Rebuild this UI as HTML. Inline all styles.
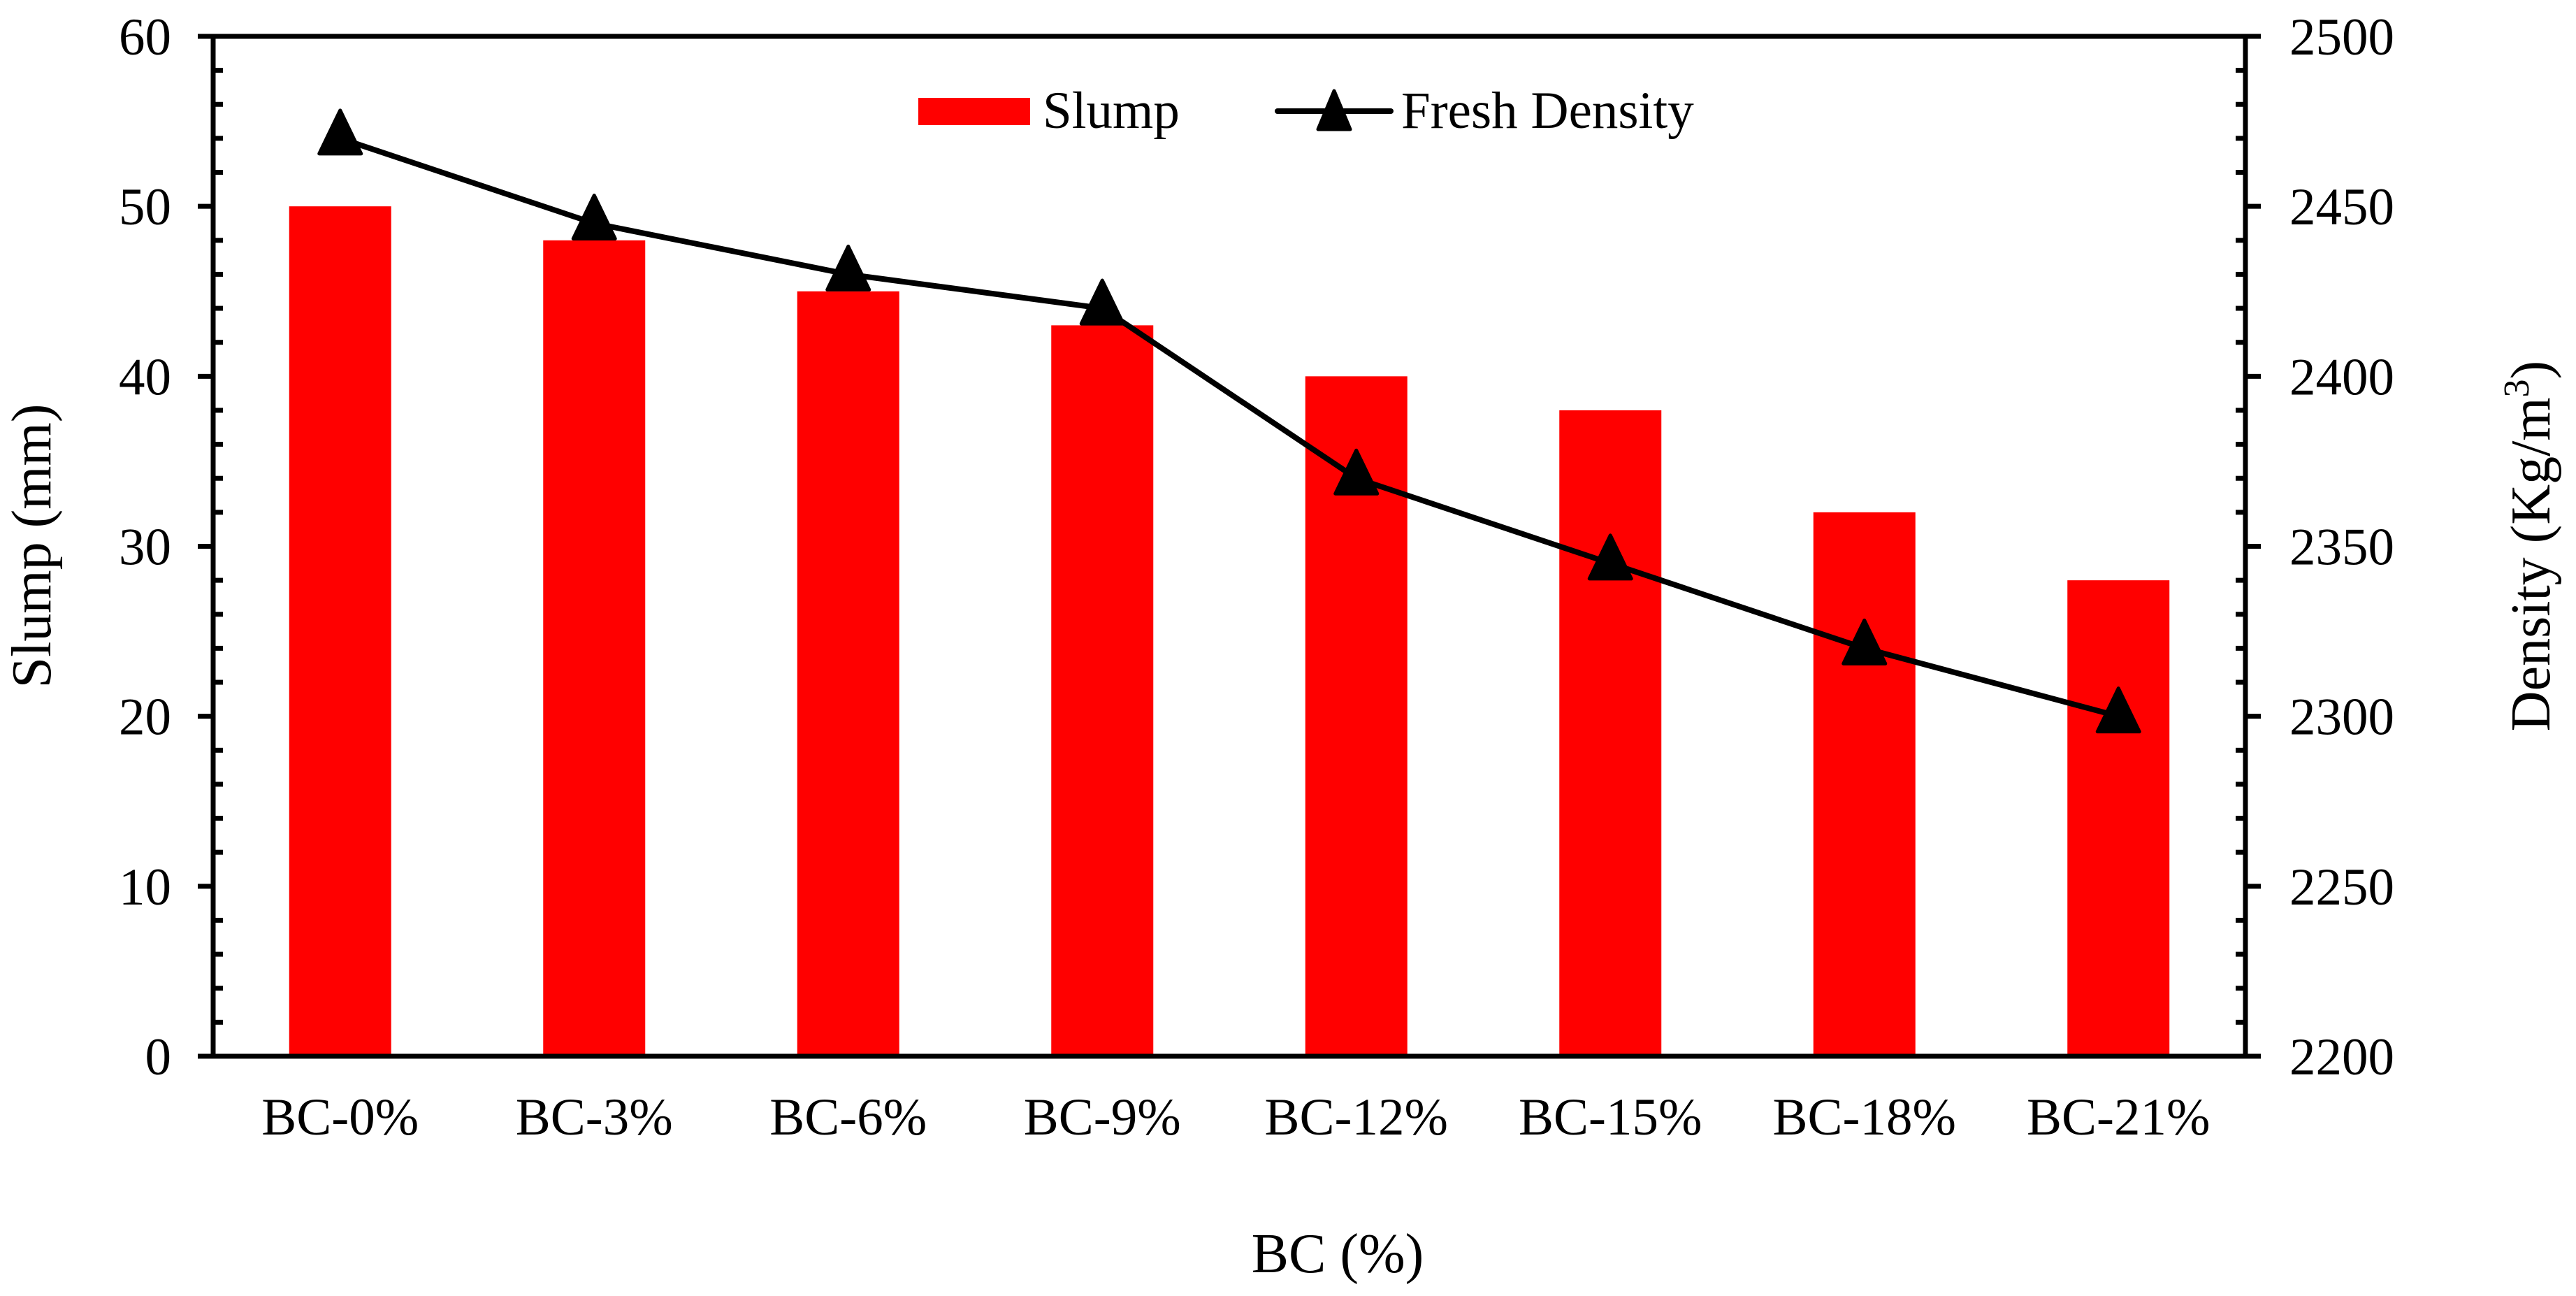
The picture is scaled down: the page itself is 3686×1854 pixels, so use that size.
<!DOCTYPE html>
<html><head><meta charset="utf-8"><style>
html,body{margin:0;padding:0;background:#fff;}
svg{display:block;font-family:"Liberation Serif","Times New Roman",serif;}
</style></head><body>
<svg id="chart" width="3686" height="1854" viewBox="0 0 3686 1854" xmlns="http://www.w3.org/2000/svg">
<rect width="3686" height="1854" fill="#fff"/>
<g id="bars"></g>
<g id="axes"></g>
<g id="line"></g>
<g>
  <g>
    <rect x="1314" y="140" width="160" height="39" fill="#ff0000"/>
    <text x="1492" y="183" font-size="75">Slump</text>
  </g>
  <g>
    <line x1="1828" y1="159" x2="1990" y2="159" stroke="#000" stroke-width="8" stroke-linecap="round"/>
    <path d="M1909,130 L1932,185 L1886,185 Z" fill="#000" stroke="#000" stroke-width="5" stroke-linejoin="round"/>
    <text x="2005" y="183" font-size="75">Fresh Density</text>
  </g>
</g>
<text x="1914" y="1820" font-size="80" text-anchor="middle">BC (%)</text>
<text transform="translate(72,781) rotate(-90)" font-size="80" text-anchor="middle">Slump (mm)</text>
<text transform="translate(3648,781) rotate(-90)" font-size="80" text-anchor="middle">Density (Kg/m<tspan font-size="52" dy="-30">3</tspan><tspan dy="30">)</tspan></text>
</svg>
<script>
const categories = ["BC-0%","BC-3%","BC-6%","BC-9%","BC-12%","BC-15%","BC-18%","BC-21%"];
const slumpValues = [50,48,45,43,40,38,32,28];
const densityValues = [2470,2445,2430,2420,2370,2345,2320,2300];
const leftTicks = [0,10,20,30,40,50,60];
const rightTicks = [2200,2250,2300,2350,2400,2450,2500];

const NS = "http://www.w3.org/2000/svg";
const L = 305, R = 3213, T = 52, B = 1511;
const yL = v => B - (v - 0) / 60 * (B - T);
const yR = v => B - (v - 2200) / 300 * (B - T);
const band = (R - L) / categories.length;
const xC = i => L + band * (i + 0.5);
const barW = 146;

function mk(tag, attrs, parent) {
  const e = document.createElementNS(NS, tag);
  for (const k in attrs) e.setAttribute(k, attrs[k]);
  parent.appendChild(e);
  return e;
}
const gBars = document.getElementById('bars');
const gAxes = document.getElementById('axes');
const gLine = document.getElementById('line');

slumpValues.forEach((v, i) => {
  const r = mk('rect', {x: xC(i) - barW / 2, y: yL(v), width: barW, height: B - yL(v), fill: '#ff0000'}, gBars);
  
  
});

// frame
const frame = mk('rect', {x: L, y: T, width: R - L, height: B - T, fill: 'none', stroke: '#000', 'stroke-width': 7}, gAxes);



// left ticks
for (let v = 0; v <= 60; v += 2) {
  const y = yL(v);
  const major = v % 10 === 0;
  const t = mk('line', major ? {x1: L - 22, x2: L, y1: y, y2: y} : {x1: L, x2: L + 14, y1: y, y2: y}, gAxes);
  t.setAttribute('stroke', '#000'); t.setAttribute('stroke-width', 7);
  
  
}
leftTicks.forEach(v => {
  const t = mk('text', {x: 245, y: yL(v) + 26, 'font-size': 75, 'text-anchor': 'end'}, gAxes);
  t.textContent = v;
  
  
});
// right ticks
for (let v = 2200; v <= 2500; v += 10) {
  const y = yR(v);
  const major = v % 50 === 0;
  const t = mk('line', major ? {x1: R, x2: R + 22, y1: y, y2: y} : {x1: R - 14, x2: R, y1: y, y2: y}, gAxes);
  t.setAttribute('stroke', '#000'); t.setAttribute('stroke-width', 7);
  
  
}
rightTicks.forEach(v => {
  const t = mk('text', {x: 3276, y: yR(v) + 26, 'font-size': 75}, gAxes);
  t.textContent = v;
  
  
});
categories.forEach((c, i) => {
  const t = mk('text', {x: xC(i), y: 1623, 'font-size': 75, 'text-anchor': 'middle'}, gAxes);
  t.textContent = c;
  
  
});

// density line
const pts = densityValues.map((v, i) => xC(i) + ',' + yR(v)).join(' ');
const pl = mk('polyline', {points: pts, fill: 'none', stroke: '#000', 'stroke-width': 8, 'stroke-linejoin': 'round'}, gLine);


densityValues.forEach((v, i) => {
  const x = xC(i), y = yR(v);
  const m = mk('path', {d: `M${x},${y - 40} L${x + 30},${y + 22} L${x - 30},${y + 22} Z`, fill: '#000', stroke: '#000', 'stroke-width': 5, 'stroke-linejoin': 'round'}, gLine);
  
  
});
</script>
</body></html>
